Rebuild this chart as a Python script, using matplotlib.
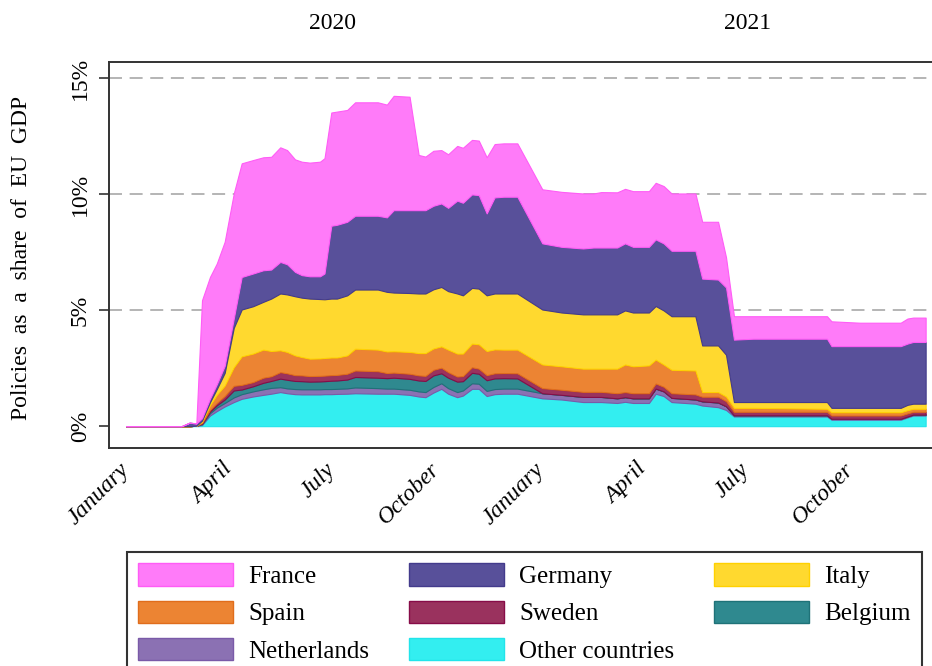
import numpy as np
import pandas as pd
import matplotlib
matplotlib.use("Agg")
import matplotlib.pyplot as plt
import matplotlib.dates as mdates
from matplotlib.patches import Patch

plt.rcParams['font.family'] = ['Liberation Serif', 'DejaVu Serif']

# Weekly knots (share of EU GDP, %)
dates = pd.to_datetime([
    "2020-01-01", "2020-02-19", "2020-02-26", "2020-03-03", "2020-03-08",
    "2020-03-15", "2020-03-21", "2020-03-28", "2020-04-05", "2020-04-12",
    "2020-04-22", "2020-05-01", "2020-05-08", "2020-05-16", "2020-05-22",
    "2020-05-29", "2020-06-04", "2020-06-11", "2020-06-20", "2020-06-24",
    "2020-06-30", "2020-07-05", "2020-07-14", "2020-07-21", "2020-08-10",
    "2020-08-18", "2020-08-24", "2020-09-07", "2020-09-15", "2020-09-21",
    "2020-09-28", "2020-10-05", "2020-10-11", "2020-10-19", "2020-10-24",
    "2020-11-01", "2020-11-07", "2020-11-14", "2020-11-21", "2020-11-29",
    "2020-12-11", "2021-01-02", "2021-01-19", "2021-02-07", "2021-02-16",
    "2021-02-23", "2021-03-09", "2021-03-16", "2021-03-23", "2021-04-06",
    "2021-04-12", "2021-04-19", "2021-04-26", "2021-05-17", "2021-05-23",
    "2021-06-06", "2021-06-13", "2021-06-20", "2021-07-07", "2021-09-10",
    "2021-09-14", "2021-10-09", "2021-11-14", "2021-11-20", "2021-11-25",
    "2021-12-06"])

other = [0, 0, 0, 0.02, 0.05, 0.46, 0.65, 0.85, 1.04, 1.18,
         1.28, 1.35, 1.40, 1.47, 1.42, 1.38, 1.37, 1.37, 1.37, 1.38,
         1.38, 1.39, 1.40, 1.42, 1.40, 1.40, 1.40, 1.35, 1.28, 1.25,
         1.45, 1.61, 1.40, 1.25, 1.32, 1.61, 1.61, 1.30, 1.38, 1.40,
         1.40, 1.20, 1.15, 1.04, 1.04, 1.04, 1.00, 1.05, 1.00, 1.00,
         1.40, 1.30, 1.04, 0.97, 0.89, 0.82, 0.70, 0.42, 0.42, 0.42,
         0.28, 0.28, 0.28, 0.38, 0.46, 0.46]
netherlands = [0, 0, 0, 0, 0.03, 0.10, 0.15, 0.15, 0.20, 0.20,
               0.22, 0.24, 0.25, 0.21, 0.21, 0.22, 0.22, 0.22, 0.22, 0.22,
               0.22, 0.22, 0.23, 0.25, 0.24, 0.22, 0.22, 0.22, 0.22, 0.22,
               0.24, 0.24, 0.24, 0.22, 0.22, 0.24, 0.22, 0.22, 0.22, 0.22,
               0.22, 0.22, 0.20, 0.22, 0.22, 0.22, 0.20, 0.20, 0.20, 0.20,
               0.22, 0.20, 0.18, 0.18, 0.18, 0.20, 0.16, 0.05, 0.05, 0.05,
               0.04, 0.04, 0.04, 0.04, 0.04, 0.04]
belgium = [0, 0, 0, 0, 0.03, 0.07, 0.10, 0.15, 0.30, 0.20,
           0.22, 0.28, 0.30, 0.37, 0.37, 0.35, 0.35, 0.33, 0.34, 0.34,
           0.36, 0.36, 0.38, 0.45, 0.45, 0.45, 0.47, 0.47, 0.47, 0.48,
           0.50, 0.43, 0.45, 0.45, 0.40, 0.45, 0.43, 0.46, 0.46, 0.45,
           0.44, 0, 0, 0, 0, 0, 0, 0, 0, 0,
           0, 0, 0, 0, 0, 0, 0, 0, 0, 0,
           0, 0, 0, 0, 0, 0]
sweden = [0, 0, 0, 0, 0.03, 0.07, 0.10, 0.15, 0.20, 0.20,
          0.18, 0.22, 0.20, 0.28, 0.28, 0.25, 0.25, 0.24, 0.24, 0.24,
          0.24, 0.24, 0.25, 0.28, 0.28, 0.22, 0.22, 0.22, 0.22, 0.22,
          0.24, 0.24, 0.24, 0.22, 0.22, 0.24, 0.22, 0.22, 0.22, 0.22,
          0.22, 0.22, 0.22, 0.22, 0.22, 0.22, 0.22, 0.22, 0.22, 0.22,
          0.22, 0.20, 0.20, 0.22, 0.20, 0.25, 0.22, 0.15, 0.15, 0.15,
          0.14, 0.14, 0.14, 0.13, 0.12, 0.12]
spain = [0, 0, 0, 0, 0.05, 0.20, 0.35, 0.45, 0.80, 1.23,
         1.23, 1.21, 1.09, 0.94, 0.92, 0.85, 0.79, 0.75, 0.75, 0.76,
         0.76, 0.75, 0.79, 0.94, 0.93, 0.93, 0.92, 0.94, 0.96, 0.98,
         0.92, 0.92, 0.97, 0.99, 0.97, 1.02, 1.05, 1.04, 1.03, 1.01,
         1.02, 1.02, 1.01, 1.00, 1.00, 1.00, 1.06, 1.19, 1.16, 1.20,
         1.03, 0.96, 1.01, 1.03, 0.20, 0.20, 0.20, 0.17, 0.17, 0.13,
         0.14, 0.14, 0.14, 0.14, 0.13, 0.13]
italy = [0, 0, 0, 0, 0.05, 0.13, 0.25, 0.55, 1.70, 2.02,
         2.04, 2.06, 2.26, 2.45, 2.48, 2.55, 2.56, 2.59, 2.56, 2.53,
         2.54, 2.54, 2.59, 2.55, 2.59, 2.57, 2.53, 2.54, 2.57, 2.57,
         2.55, 2.56, 2.52, 2.59, 2.51, 2.40, 2.40, 2.40, 2.41, 2.42,
         2.42, 2.37, 2.32, 2.34, 2.34, 2.34, 2.34, 2.33, 2.32, 2.28,
         2.31, 2.33, 2.31, 2.34, 2.01, 2.01, 1.80, 0.25, 0.25, 0.29,
         0.19, 0.19, 0.19, 0.23, 0.22, 0.22]
germany = [0, 0, 0.15, 0.10, 0.10, 0.15, 0.20, 0.30, 0.40, 1.40,
           1.41, 1.36, 1.25, 1.36, 1.30, 1.05, 0.97, 0.96, 0.98, 1.11,
           3.14, 3.18, 3.17, 3.18, 3.18, 3.21, 3.55, 3.57, 3.59, 3.59,
           3.60, 3.60, 3.59, 4.00, 3.99, 4.03, 4.03, 3.53, 4.14, 4.17,
           4.17, 2.85, 2.83, 2.84, 2.88, 2.88, 2.88, 2.89, 2.83, 2.83,
           2.87, 2.89, 2.82, 2.82, 2.88, 2.84, 2.90, 2.69, 2.73, 2.73,
           2.66, 2.66, 2.66, 2.64, 2.66, 2.66]
france = [0, 0, 0, 0, 5.09, 5.25, 5.21, 5.35, 5.39, 4.90,
          4.89, 4.87, 4.86, 4.94, 4.92, 4.85, 4.89, 4.90, 4.94, 4.97,
          4.88, 4.88, 4.82, 4.89, 4.89, 4.86, 4.93, 4.89, 2.38, 2.31,
          2.37, 2.30, 2.31, 2.36, 2.37, 2.35, 2.35, 2.42, 2.30, 2.30,
          2.30, 2.33, 2.37, 2.37, 2.33, 2.39, 2.38, 2.35, 2.40, 2.40,
          2.44, 2.47, 2.47, 2.47, 2.45, 2.49, 1.30, 1.01, 0.97, 0.97,
          1.07, 1.01, 1.01, 1.08, 1.05, 1.05]

names = ["Other countries", "Netherlands", "Belgium", "Sweden",
         "Spain", "Italy", "Germany", "France"]
colors = ["#33eef0", "#8b71b3", "#2f898f", "#9a325e",
          "#ec8433", "#ffd92f", "#58509a", "#ff7bf9"]
edges = ["#22e4ea", "#7a5aa8", "#1f7278", "#870c48",
         "#e06d1c", "#ffd100", "#433b8c", "#ff5cf6"]

series = [other, netherlands, belgium, sweden, spain, italy, germany, france]

fig = plt.figure(figsize=(9.32, 6.66), dpi=100)
ax = fig.add_axes([109 / 932, 0.327, 845 / 932, 0.580])

base = np.zeros(len(dates))
for vals, c, e in zip(series, colors, edges):
    top = base + np.array(vals)
    ax.fill_between(dates, base, top, facecolor=c, edgecolor=e, linewidth=0.8, zorder=2)
    base = top

ax.set_xlim(pd.Timestamp("2019-12-17"), pd.Timestamp("2021-12-31"))
ax.set_ylim(-0.95, 15.7)

ax.set_yticks([0, 5, 10, 15])
ax.set_yticklabels(["0%", "5%", "10%", "15%"], rotation=90, va="center", fontsize=17)
for y in [5, 10, 15]:
    ax.axhline(y, color="#a0a0a0", linestyle=(0, (8.5, 5)), linewidth=1.1, zorder=1)

ax.xaxis.set_major_locator(mdates.MonthLocator(bymonth=[1, 4, 7, 10]))
ax.xaxis.set_major_formatter(mdates.DateFormatter("%B"))
for lab in ax.get_xticklabels():
    lab.set_rotation(45)
    lab.set_rotation_mode("anchor")
    lab.set_ha("right")
    lab.set_va("center")
    lab.set_fontstyle("italic")
    lab.set_fontsize(17)
ax.tick_params(axis="x", length=0, pad=13)
ax.tick_params(axis="y", length=7, width=1.2, color="#333333", pad=6)

for side in ["left", "bottom", "top"]:
    ax.spines[side].set_color("#333333")
    ax.spines[side].set_linewidth(1.4)
ax.spines["right"].set_visible(False)

ax.set_ylabel("Policies  as  a  share  of  EU  GDP", fontsize=17)
ax.yaxis.set_label_coords((32 - 109) / 845, 0.492)

for yr, mid in [("2020", "2020-07-01"), ("2021", "2021-07-02")]:
    ax.text(pd.Timestamp(mid), 1.1, yr, transform=ax.get_xaxis_transform(),
            ha="center", va="center", fontsize=17)

# legend filled row by row: France, Germany, Italy / Spain, Sweden, Belgium / ...
order = ["France", "Spain", "Netherlands", "Germany", "Sweden",
         "Other countries", "Italy", "Belgium"]
handles = []
for n in order:
    i = names.index(n)
    handles.append(Patch(facecolor=colors[i], edgecolor=edges[i], linewidth=1, label=n))
leg = fig.legend(handles=handles, ncol=3, loc="upper left",
                 bbox_to_anchor=(127 / 932, 1 - 552 / 666), borderaxespad=0,
                 fontsize=18, handlelength=3.8, handleheight=1.0,
                 handletextpad=0.6, columnspacing=1.6, labelspacing=0.5,
                 borderpad=0.45, fancybox=False, framealpha=1)
leg.get_frame().set_edgecolor("#333333")
leg.get_frame().set_linewidth(1.5)

fig.savefig("out.png", dpi=100)
